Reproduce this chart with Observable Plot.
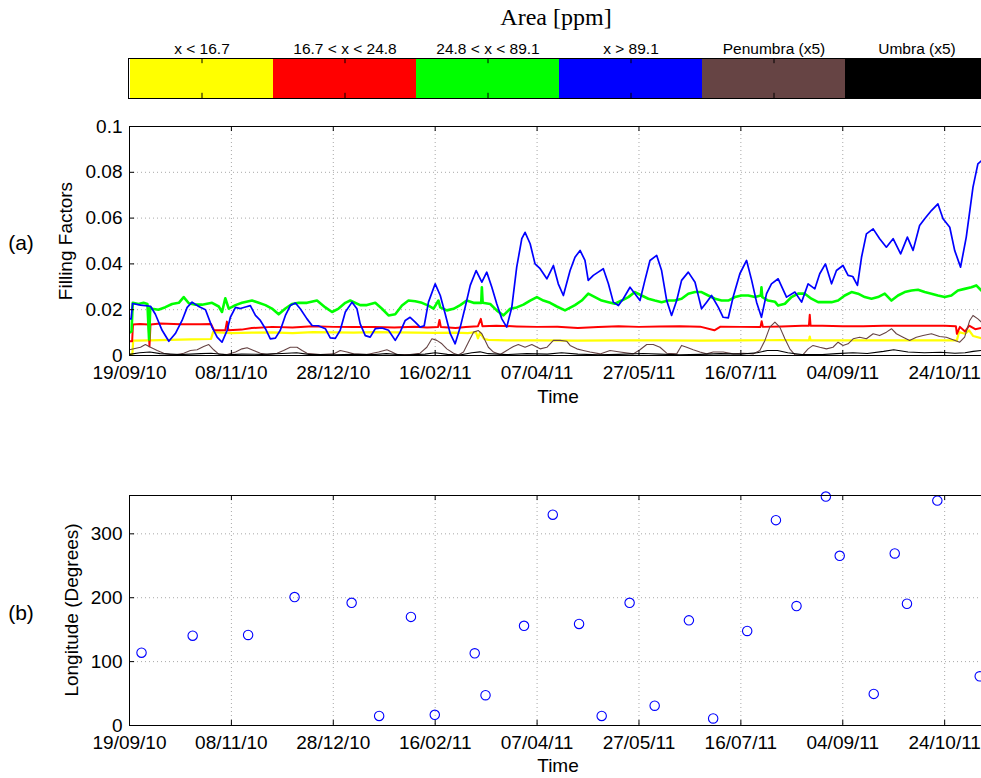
<!DOCTYPE html>
<html>
<head>
<meta charset="utf-8">
<script src="https://cdn.jsdelivr.net/npm/d3@7"></script>
<script src="https://cdn.jsdelivr.net/npm/@observablehq/plot@0.6"></script>
<style>
html, body { margin: 0; padding: 0; background: #fff; overflow: hidden; }
#page { position: relative; width: 981px; height: 778px; overflow: hidden; background: #fff;
  font-family: "Liberation Sans", Arial, sans-serif; color: #000; }
.abs { position: absolute; white-space: nowrap; }
.lbl { font-size: 19px; line-height: 19px; }
.rot { transform: translate(-50%, -50%) rotate(-90deg); }
#title { left: 0; width: 1112px; text-align: center; top: 5px; font-family: "Liberation Serif", serif;
  font-size: 24px; line-height: 24px; }
</style>
</head>
<body>
<div id="page">
  <div id="title" class="abs">Area [ppm]</div>
  <div id="cbar" class="abs" style="left:0;top:31px;width:990px;"></div>
  <div id="plotA" class="abs" style="left:0;top:110px;width:990px;"></div>
  <div id="plotB" class="abs" style="left:0;top:480px;width:990px;"></div>
  <div class="abs lbl" style="left:21px;top:242px;transform:translate(-50%,-50%);font-size:21px;line-height:21px;">(a)</div>
  <div class="abs lbl" style="left:21px;top:612px;transform:translate(-50%,-50%);font-size:21px;line-height:21px;">(b)</div>
  <div class="abs lbl rot" style="left:65px;top:241px;">Filling Factors</div>
  <div class="abs lbl rot" style="left:71px;top:610px;">Longitude (Degrees)</div>
  <div class="abs lbl" style="left:558px;top:387px;transform:translateX(-50%);">Time</div>
  <div class="abs lbl" style="left:558px;top:756px;transform:translateX(-50%);">Time</div>
</div>
<script>
// ---------- data ----------
const areaCategories = ["x < 16.7", "16.7 < x < 24.8", "24.8 < x < 89.1", "x > 89.1", "Penumbra (x5)", "Umbra (x5)"];
const areaColors = ["#ffff00", "#ff0000", "#00ff00", "#0000ff", "#664444", "#000000"];

const timeTickDates = ["2010-09-19", "2010-11-08", "2010-12-28", "2011-02-16", "2011-04-07",
  "2011-05-27", "2011-07-16", "2011-09-04", "2011-10-24"];
const fillingTicks = [0, 0.02, 0.04, 0.06, 0.08, 0.1];
const longitudeTicks = [0, 100, 200, 300];

// [days since 19/09/2010, filling factor]
const ffSmall = [[0,0.0005],[1.4,0.0005],[1.8,0.0065],[10,0.0066],[20,0.0068],[30,0.007],[40,0.0072],[41,0.0102],[50,0.0098],[60,0.01],[70,0.0101],[80,0.0098],[90,0.0102],[100,0.0101],[110,0.01],[120,0.0102],[130,0.0101],[140,0.01],[150,0.0099],[160,0.01],[166,0.0098],[170,0.0102],[171,0.0075],[172,0.01],[174,0.0072],[176,0.0068],[185,0.0066],[200,0.0066],[220,0.0065],[240,0.0066],[260,0.0066],[280,0.0065],[300,0.0066],[320,0.0067],[333.4,0.0066],[333.8,0.0083],[334.2,0.0066],[350,0.0066],[370,0.0066],[390,0.0066],[406,0.0066],[407,0.0102],[410,0.0095],[412,0.011],[414,0.0085],[418,0.0075]];

const ffMedium = [[0,0.0062],[1.3,0.0062],[1.7,0.0135],[5,0.0138],[9.4,0.0135],[9.8,0.004],[10.3,0.0135],[15,0.014],[25,0.0137],[35,0.0136],[40,0.0138],[41.5,0.011],[47,0.011],[47.8,0.0148],[48.6,0.011],[55,0.0113],[60,0.012],[70,0.0125],[80,0.0122],[90,0.0128],[100,0.0125],[110,0.0124],[120,0.0124],[130,0.0122],[140,0.0126],[146,0.0122],[151.4,0.0124],[152.1,0.0155],[152.8,0.0124],[160,0.012],[165,0.0124],[171,0.0128],[172.4,0.016],[173.2,0.0128],[180,0.013],[190,0.0127],[200,0.0125],[210,0.0126],[220,0.012],[230,0.0124],[240,0.0128],[250,0.0125],[260,0.0127],[270,0.0128],[280,0.0126],[287,0.011],[290,0.0126],[300,0.0125],[309.6,0.0124],[310.2,0.015],[310.8,0.0125],[320,0.0127],[330,0.013],[333.4,0.013],[333.8,0.0178],[334.2,0.013],[340,0.013],[350,0.0128],[360,0.0128],[370,0.013],[380,0.013],[390,0.013],[400,0.013],[405.5,0.0128],[406,0.0095],[407.5,0.0125],[410,0.0105],[412,0.013],[415,0.0115],[418,0.012]];

const ffLarge = [[0,0.01],[1,0.0105],[1.6,0.023],[4.4,0.0225],[6.9,0.023],[8.8,0.0225],[9.6,0.007],[10.2,0.021],[11.1,0.0204],[14.2,0.02],[17.6,0.0211],[20.9,0.0225],[24.2,0.023],[26.6,0.0255],[29.1,0.0228],[32.4,0.0222],[35.6,0.0222],[40.5,0.023],[43.8,0.0214],[45.4,0.019],[47,0.025],[48.7,0.0205],[52,0.022],[55.2,0.023],[60.1,0.024],[63.4,0.023],[66.7,0.022],[69.9,0.0205],[73.2,0.018],[76.5,0.0205],[79.7,0.0225],[83,0.023],[87.1,0.023],[92,0.024],[96.1,0.021],[99.4,0.019],[102.6,0.0205],[105.9,0.023],[108.3,0.024],[113.2,0.022],[116.5,0.022],[120.6,0.023],[123.9,0.0204],[127.1,0.0175],[130.4,0.018],[133.7,0.0218],[136.9,0.024],[140.2,0.0237],[143.5,0.023],[146.7,0.0218],[149.2,0.0205],[151.6,0.024],[152.5,0.021],[155.7,0.0197],[159,0.0204],[162.3,0.022],[165.5,0.024],[168.8,0.023],[172.6,0.023],[172.9,0.0298],[173.3,0.023],[177,0.0225],[180.2,0.0197],[183.5,0.0175],[186.8,0.0204],[190,0.021],[193.3,0.0222],[196.6,0.024],[199.9,0.0255],[203.1,0.024],[206.4,0.023],[209.7,0.0214],[213.7,0.0197],[218.6,0.022],[221.9,0.024],[225.1,0.027],[228.4,0.0255],[231.7,0.024],[235,0.0233],[238.2,0.0226],[241.5,0.024],[244.8,0.0255],[248,0.0277],[251.3,0.0262],[254.6,0.0248],[257.8,0.024],[261.1,0.0233],[264.4,0.024],[267.6,0.024],[270.9,0.0248],[274.2,0.027],[277.5,0.0277],[280.7,0.0277],[284,0.0262],[287.3,0.0248],[290.5,0.024],[293.8,0.024],[297.1,0.0255],[300.3,0.0262],[303.6,0.0262],[306.9,0.0255],[309.8,0.0262],[310.1,0.0298],[310.5,0.0255],[313.4,0.024],[316.7,0.0235],[318.3,0.0218],[321.6,0.0226],[324.8,0.0255],[328.1,0.027],[331.4,0.027],[334.6,0.0248],[337.9,0.0233],[341.2,0.0233],[344.5,0.0233],[347.7,0.024],[351,0.0262],[354.3,0.0277],[357.5,0.027],[360.8,0.0255],[364.1,0.0248],[367.3,0.0255],[370.6,0.027],[373.9,0.024],[377.1,0.0262],[380.4,0.0277],[383.7,0.0284],[386.9,0.0287],[390.2,0.0277],[393.5,0.027],[396.7,0.0262],[400,0.0255],[403.3,0.0262],[406.5,0.0284],[409.8,0.0291],[413.1,0.0298],[415.5,0.0306],[418,0.0284]];

const ffLargest = [[0,0.016],[0.8,0.016],[1.5,0.0227],[5.4,0.022],[10.3,0.0215],[12.7,0.018],[16,0.011],[19.3,0.0062],[22.5,0.0096],[25.8,0.0153],[28.3,0.021],[30.7,0.0233],[34,0.0214],[37.3,0.02],[40.5,0.0124],[43,0.008],[45.4,0.0058],[47.9,0.011],[49.5,0.0167],[52,0.021],[54.4,0.0205],[56.9,0.0212],[59.3,0.0218],[61.8,0.0175],[64.2,0.0153],[66.7,0.0117],[69.1,0.0073],[71.6,0.0076],[74,0.011],[76.5,0.0175],[78.9,0.0218],[81.4,0.0229],[83.8,0.0204],[87.1,0.016],[89.6,0.0131],[92.6,0.013],[96.1,0.0117],[98.5,0.0077],[101,0.0075],[103.4,0.011],[105.9,0.019],[109.2,0.0233],[111.6,0.0204],[113.2,0.0138],[115.7,0.0087],[118.1,0.008],[120.6,0.0117],[123.9,0.012],[127.1,0.011],[130.4,0.0066],[132.8,0.0102],[135.3,0.0153],[137.7,0.0167],[140.2,0.0146],[142.6,0.0124],[144.6,0.013],[146.7,0.0233],[150,0.0313],[152.5,0.0262],[154.9,0.0182],[157.4,0.0095],[159.8,0.0051],[162.3,0.0124],[164.7,0.0211],[167.2,0.0306],[170.1,0.0371],[172.9,0.032],[175.3,0.0364],[177.8,0.0298],[180.2,0.0226],[182.7,0.016],[185.1,0.0124],[187.6,0.0211],[190,0.0386],[192.5,0.051],[194.1,0.0538],[196.6,0.0488],[199,0.04],[201.5,0.0379],[204.8,0.0335],[208,0.0393],[210.4,0.0313],[212.9,0.0262],[216.2,0.0371],[218.6,0.0429],[221.1,0.0459],[223.5,0.0415],[225.1,0.0328],[227.6,0.035],[230,0.0364],[232.5,0.0379],[235,0.0313],[237.4,0.0233],[239.9,0.0218],[242.3,0.0248],[245.6,0.0298],[248,0.027],[250.5,0.024],[252.9,0.0328],[255.4,0.0415],[258.7,0.0437],[261.1,0.0371],[263.6,0.024],[266,0.0175],[268.5,0.024],[270.9,0.0328],[274.2,0.0364],[277.5,0.032],[280.7,0.0204],[283.2,0.0233],[285.6,0.0262],[288.9,0.0211],[291.3,0.0167],[293.8,0.0164],[296.2,0.0255],[299.5,0.0357],[302.8,0.0415],[305.3,0.0328],[307.7,0.0233],[310.1,0.0167],[312.6,0.027],[315,0.0313],[318.3,0.0335],[322.4,0.0255],[326.5,0.0277],[329.8,0.0233],[333,0.0313],[336.3,0.0291],[338.7,0.0357],[341.5,0.04],[344.5,0.0313],[346.9,0.0371],[350.1,0.0393],[352.6,0.035],[354.9,0.0345],[357.2,0.0306],[359.2,0.0429],[361.6,0.0531],[364.9,0.0553],[368.1,0.051],[371.4,0.0473],[374.7,0.051],[378.4,0.0444],[381.7,0.0517],[384.5,0.0459],[387.7,0.0568],[390.2,0.0597],[393.5,0.0633],[396.7,0.0662],[399.2,0.0597],[402.5,0.056],[404.9,0.0459],[407.8,0.0386],[410.6,0.0517],[413.9,0.0735],[416.3,0.0837],[418,0.085]];

const ffPenumbra = [[0,0.0025],[5.4,0.0036],[7.8,0.0048],[10.3,0.0036],[13.6,0.0022],[16.8,0.001],[20.1,0.0004],[23.4,0.0004],[26.6,0.001],[29.9,0.0022],[33.2,0.0025],[36.4,0.0039],[38.9,0.0048],[41.3,0.0025],[43.8,0.0006],[47.9,0.0004],[52,0.0015],[55.2,0.0029],[57.7,0.0034],[60.9,0.0022],[64.2,0.001],[67.5,0.0004],[72.4,0.001],[75.6,0.0022],[78.9,0.0036],[82.2,0.0036],[84.7,0.0022],[87.1,0.001],[93.6,0.0004],[100.1,0.0007],[103.4,0.0022],[106.7,0.0015],[110,0.0007],[116.5,0.0004],[122.2,0.0015],[126.3,0.0025],[128.8,0.0015],[131.2,0.0004],[137.7,0.0004],[142.6,0.001],[145.9,0.0036],[148.4,0.0073],[150.8,0.0066],[153.3,0.0051],[155.7,0.0029],[159,0.001],[161.4,0.0002],[163.9,0.0015],[166.3,0.0058],[168.8,0.0102],[171.2,0.0109],[172.9,0.0095],[174.5,0.0066],[176.1,0.0036],[178.6,0.0015],[181.9,0.0004],[185.1,0.0022],[188.4,0.0039],[190.8,0.0048],[194.1,0.0036],[197.4,0.0048],[201.5,0.0029],[204.8,0.0036],[208,0.0066],[211.3,0.0066],[214.6,0.0062],[216.2,0.0044],[219.5,0.0029],[222.7,0.0022],[226,0.0015],[230.9,0.0007],[235.8,0.0022],[240.7,0.0015],[247.2,0.0007],[250.5,0.0025],[253.8,0.0048],[257,0.0048],[260.3,0.0036],[263.6,0.001],[268.5,0.0007],[270.9,0.0044],[273.4,0.0036],[276.6,0.0025],[279.9,0.0015],[283.2,0.0007],[286.4,0.0015],[291.3,0.0015],[296.2,0.0007],[301.1,0.001],[306,0.0007],[309.3,0.0022],[311.8,0.0066],[314.2,0.0124],[316.7,0.0146],[319.1,0.0124],[321.6,0.0073],[324,0.0029],[326.5,0.0003],[330.5,0.0004],[333,0.0029],[335.4,0.0044],[338.7,0.0036],[342,0.0029],[345.2,0.0036],[347.7,0.0058],[350.1,0.0044],[352.6,0.0051],[355.1,0.0073],[358.3,0.008],[361.6,0.0073],[364.9,0.0095],[368.1,0.0087],[371.4,0.0102],[373.9,0.0117],[376.3,0.0095],[379.6,0.008],[382.8,0.0066],[386.1,0.008],[389.4,0.0087],[393.5,0.0095],[397.5,0.0083],[400.8,0.008],[404.1,0.0069],[407.4,0.0058],[409.8,0.008],[412.3,0.0153],[413.9,0.0175],[416.3,0.016],[418,0.0146]];

const ffUmbra = [[0,0.0005],[5,0.0012],[10,0.0015],[15,0.0008],[25,0.0004],[35,0.0008],[40,0.001],[48,0.0003],[55,0.0006],[65,0.0005],[75,0.0009],[82,0.0012],[88,0.0005],[100,0.0003],[110,0.0005],[120,0.0004],[126,0.0008],[135,0.0002],[145,0.0006],[150,0.0012],[156,0.0005],[162,0.0002],[168,0.0012],[172,0.0016],[176,0.0008],[185,0.0004],[195,0.0008],[205,0.0006],[212,0.0012],[220,0.0006],[230,0.0003],[240,0.0005],[252,0.0009],[260,0.0006],[270,0.0003],[280,0.0005],[290,0.0008],[300,0.0006],[308,0.0012],[313,0.0022],[318,0.0022],[323,0.0012],[330,0.0004],[340,0.0004],[347,0.0008],[355,0.0012],[362,0.0009],[370,0.0018],[375,0.0025],[382,0.0015],[390,0.0012],[398,0.0014],[405,0.001],[410,0.0012],[414,0.0018],[418,0.0022]];

// [days since 19/09/2010, longitude in degrees]
const longitudes = [[5.9,114],[31,140.6],[58.2,141.7],[81,201],[109,192],[122.5,15],[138.1,170],[149.8,16.7],[169.4,113],[174.7,47.4],[193.6,156],[207.7,330],[220.6,159],[231.7,15],[245.4,192],[257.7,31],[274.5,164.6],[286.4,11],[303.1,148],[317.2,321.4],[327.3,187],[341.7,358.3],[348.5,265.6],[365.2,49.5],[375.5,269.3],[381.5,190.6],[396.4,352],[417.2,77]];

// ---------- helpers ----------
const t0 = Date.UTC(2010, 8, 19);
const toDate = d => new Date(t0 + d * 864e5);
const timeTicks = timeTickDates.map(s => new Date(s + "T00:00:00Z"));
const xDomain = [toDate(0), toDate(422)];
const fmtTime = d3.utcFormat("%d/%m/%y");
const toRows = arr => arr.map(([d, v]) => ({date: toDate(d), value: v}));

const baseStyle = {fontFamily: '"Liberation Sans", Arial, sans-serif', fontSize: "19px", color: "#000",
  background: "transparent", overflow: "visible", maxWidth: "none"};
const gridStyle = {stroke: "#a8a8a8", strokeOpacity: 1, strokeWidth: 1, strokeDasharray: "1,3"};

// ---------- colour bar ----------
const cbar = Plot.plot({
  width: 990, height: 70, marginLeft: 128, marginRight: 1, marginTop: 27, marginBottom: 3,
  style: {...baseStyle, fontSize: "15.5px"},
  x: {type: "band", domain: areaCategories, padding: 0, axis: "top", tickSize: 0, tickPadding: 5, label: null},
  y: {domain: [0, 1], axis: null},
  color: {type: "identity"},
  marks: [
    Plot.barY(areaCategories, {x: d => d, y1: 0, y2: 1, fill: (d, i) => areaColors[i]}),
    Plot.ruleX(areaCategories, {x: d => d, y1: 0, y2: 0.13, stroke: "#000"}),
    Plot.ruleX(areaCategories, {x: d => d, y1: 0.87, y2: 1, stroke: "#000"}),
    Plot.frame({stroke: "#000"})
  ]
});
document.getElementById("cbar").append(cbar);

// ---------- panel (a) ----------
const seriesA = [
  {data: ffSmall, color: "#ffff00", w: 2.2},
  {data: ffMedium, color: "#ff0000", w: 2},
  {data: ffLarge, color: "#00ff00", w: 2.6},
  {data: ffLargest, color: "#0000ff", w: 1.7},
  {data: ffPenumbra, color: "#664444", w: 1.1},
  {data: ffUmbra, color: "#000000", w: 1.1}
];
const plotA = Plot.plot({
  width: 990, height: 300, marginLeft: 129, marginRight: 1, marginTop: 16, marginBottom: 55,
  style: baseStyle,
  x: {type: "utc", domain: xDomain, ticks: timeTicks, tickFormat: fmtTime, tickSize: 0, tickPadding: 10, label: null},
  y: {domain: [0, 0.1], ticks: fillingTicks, tickFormat: d => d === 0 ? "0" : String(+d.toFixed(2)), tickSize: 0, tickPadding: 7, label: null},
  marks: [
    Plot.ruleX(timeTicks, {x: d => d, ...gridStyle}),
    Plot.ruleY(fillingTicks, {y: d => d, ...gridStyle}),
    ...seriesA.map(s => Plot.line(toRows(s.data), {x: "date", y: "value", stroke: s.color, strokeWidth: s.w, clip: true})),
    Plot.ruleX(timeTicks, {x: d => d, y1: 0, y2: 0.0022, stroke: "#000"}),
    Plot.ruleX(timeTicks, {x: d => d, y1: 0.1, y2: 0.0978, stroke: "#000"}),
    Plot.ruleY(fillingTicks, {y: d => d, x1: toDate(0), x2: toDate(2.5), stroke: "#000"}),
    Plot.frame({stroke: "#000"})
  ]
});
document.getElementById("plotA").append(plotA);

// ---------- panel (b) ----------
const plotB = Plot.plot({
  width: 990, height: 298, marginLeft: 129, marginRight: 1, marginTop: 15, marginBottom: 53,
  style: baseStyle,
  x: {type: "utc", domain: xDomain, ticks: timeTicks, tickFormat: fmtTime, tickSize: 0, tickPadding: 10, label: null},
  y: {domain: [0, 360], ticks: longitudeTicks, tickFormat: d => String(d), tickSize: 0, tickPadding: 7, label: null},
  marks: [
    Plot.ruleX(timeTicks, {x: d => d, ...gridStyle}),
    Plot.ruleY(longitudeTicks, {y: d => d, ...gridStyle}),
    Plot.dot(toRows(longitudes), {x: "date", y: "value", r: 4.7, stroke: "#0000ff", strokeWidth: 1.1, fill: "none"}),
    Plot.ruleX(timeTicks, {x: d => d, y1: 0, y2: 8, stroke: "#000"}),
    Plot.ruleX(timeTicks, {x: d => d, y1: 360, y2: 352, stroke: "#000"}),
    Plot.ruleY(longitudeTicks, {y: d => d, x1: toDate(0), x2: toDate(2.5), stroke: "#000"}),
    Plot.frame({stroke: "#000"})
  ]
});
document.getElementById("plotB").append(plotB);
</script>
</body>
</html>
